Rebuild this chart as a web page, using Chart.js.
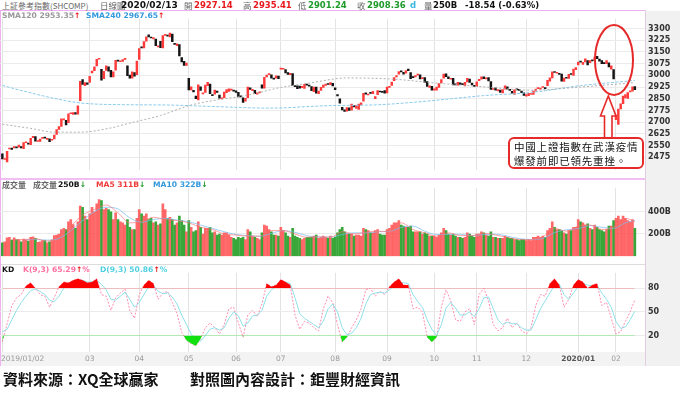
<!DOCTYPE html>
<html>
<head>
<meta charset="utf-8">
<script src="https://cdn.jsdelivr.net/npm/chart.js@4.4.1/dist/chart.umd.min.js"></script>
<style>
body{margin:0;width:680px;height:394px;background:#fff;position:relative;overflow:hidden;font-family:"DejaVu Sans",sans-serif}
.abs{position:absolute;white-space:nowrap}
canvas{position:absolute;left:0}
.hd{top:0;font-size:8.5px;line-height:11px;font-weight:bold}
.cj{font-family:"Noto Sans CJK TC";font-weight:normal;color:#666;font-size:8.5px}
.lg{font-size:7.6px;font-weight:bold;line-height:10px}
</style>
</head>
<body>
<!-- backgrounds -->
<div class="abs" style="left:645px;top:11px;width:35px;height:355px;background:#f1f1f1"></div>
<div class="abs" style="left:0;top:352px;width:645px;height:14px;background:#f3f3f3"></div>
<div class="abs" style="left:0;top:10px;width:646px;height:1px;background:#eeb0ee"></div>
<div class="abs" style="left:0;top:178px;width:646px;height:2px;background:#f2bdf2"></div>
<div class="abs" style="left:0;top:264px;width:645px;height:1px;background:#ddd"></div>
<div class="abs" style="left:0;top:10px;width:1px;height:356px;background:#eeb0ee"></div>
<div class="abs" style="left:645px;top:10px;width:1px;height:356px;background:#e2cce2"></div>

<canvas id="cPrice" width="680" height="167" style="top:11px"></canvas>
<canvas id="cVol" width="680" height="84" style="top:180px"></canvas>
<canvas id="cKD" width="680" height="101" style="top:265px"></canvas>

<!-- header row -->
<span class="abs hd cj" style="left:2px;font-size:8px">上証參考指數(SHCOMP)</span>
<span class="abs hd cj" style="left:100px">日線圖</span>
<span class="abs hd" style="left:121px;color:#111;font-size:9px">2020/02/13</span>
<span class="abs hd cj" style="left:184px">開</span>
<span class="abs hd" style="left:194px;color:#e8191e">2927.14</span>
<span class="abs hd cj" style="left:243px">高</span>
<span class="abs hd" style="left:253px;color:#e8191e">2935.41</span>
<span class="abs hd cj" style="left:298px">低</span>
<span class="abs hd" style="left:308px;color:#1d9a2a">2901.24</span>
<span class="abs hd cj" style="left:357px">收</span>
<span class="abs hd" style="left:367px;color:#1d9a2a">2908.36</span>
<span class="abs hd" style="left:410px;color:#38b8e0">d</span>
<span class="abs hd cj" style="left:424px">量</span>
<span class="abs hd" style="left:433px;color:#111">250B</span>
<span class="abs hd" style="left:465px;color:#111">-18.54 (-0.63%)</span>

<!-- panel legends -->
<span class="abs lg" style="left:2px;top:11px;color:#999">SMA120 2953.35<span style="color:#e8191e">↑</span></span>
<span class="abs lg" style="left:86px;top:11px;color:#3399dd">SMA240 2967.65<span style="color:#e8191e">↑</span></span>

<span class="abs lg cj" style="left:2px;top:180px;font-size:8px">成交量</span>
<span class="abs lg cj" style="left:33px;top:180px;font-size:8px">成交量</span>
<span class="abs lg" style="left:58px;top:180px;color:#111">250B<span style="color:#1d9a2a">↓</span></span>
<span class="abs lg" style="left:96px;top:180px;color:#f03a3a">MA5 311B<span style="color:#1d9a2a">↓</span></span>
<span class="abs lg" style="left:153px;top:180px;color:#3399dd">MA10 322B<span style="color:#1d9a2a">↓</span></span>

<span class="abs lg" style="left:2px;top:265px;color:#111">KD</span>
<span class="abs lg" style="left:23px;top:265px;color:#ff6fa0">K(9,3) 65.29<span style="color:#e8191e">↑</span>%</span>
<span class="abs lg" style="left:100px;top:265px;color:#4fd0e0">D(9,3) 50.86<span style="color:#e8191e">↑</span>%</span>

<!-- annotation -->
<svg class="abs" style="left:0;top:0" width="680" height="394">
  <ellipse cx="614" cy="60" rx="19" ry="35" fill="none" stroke="#e62a2a" stroke-width="2"/>
  <path d="M604.5 138 V116 H600.5 L608.3 96 L616 116 H612 V138" fill="#fff" stroke="#e62a2a" stroke-width="1.6"/>
</svg>
<div class="abs" style="left:508px;top:137px;width:136px;height:32px;box-sizing:border-box;border:2px solid #e62a2a;border-radius:6px;background:#fff;font-family:'Noto Sans CJK TC';font-size:10.5px;letter-spacing:0.8px;line-height:14px;padding:1px 0 0 4px;color:#111">中國上證指數在武漢疫情<br>爆發前即已領先重挫。</div>

<!-- footer -->
<span class="abs" style="left:3px;top:369px;font-family:'Noto Sans CJK TC';font-size:15px;font-weight:bold;color:#111;line-height:20px">資料來源：XQ全球贏家</span>
<span class="abs" style="left:190px;top:369px;font-family:'Noto Sans CJK TC';font-size:15px;font-weight:bold;color:#111;line-height:20px">對照圖內容設計：鉅豐財經資訊</span>

<script>
// 月份刻度 (交易日序號) 與標籤
const monthIdx = [0, 37, 58, 79, 99, 118, 141, 163, 183, 201, 222, 244, 260];
const monthLabels = ['2019/01/02', '03', '04', '05', '06', '07', '08', '09', '10', '11', '12', '2020/01', '02'];

// 日K 開盤
const opens = [
  2497,2461,2446,2528,2534,2535,2536,2540,2544,2530,2568,2564,2556,2600,2607,2576,2577,2596,2604,2590,2593,2584,
  2592,2622,2654,2673,2715,2711,2697,2754,2749,2761,2751,2838,2973,2933,2952,
  2954,3015,3030,3060,3103,3038,2978,3031,3054,3032,2990,3033,3094,3087,3089,3102,3061,3001,2981,3018,3004,
  3101,3177,3176,3218,3259,3242,3233,3232,3182,3218,3175,3256,3258,3245,3264,3203,3189,3197,3114,3090,3063,
  2980,2906,2904,2867,2843,2926,2881,2890,2934,2944,2875,2880,2899,2874,2849,2857,2889,2897,2905,2905,
  2901,2891,2868,2855,2834,2857,2919,2902,2903,2880,2888,2939,2917,2989,3004,3003,2977,2982,2995,
  3040,3039,3036,3018,3004,3011,2930,2932,2931,2921,2916,2940,2936,2928,2895,2925,2883,2903,2923,2935,2944,2940,2949,
  2920,2877,2849,2795,2779,2770,2791,2776,2806,2788,2781,2811,2834,2887,2874,2886,2883,2851,2876,2895,2892,2902,
  2887,2922,2935,2966,2990,3007,3028,3019,3013,3040,3017,2986,2990,3001,3003,2978,2985,2960,2922,2929,
  2905,2905,2922,2951,2982,3009,2990,2975,2980,2941,2937,2952,2941,2932,2958,2976,2950,2936,
  2929,2965,2976,2990,2977,2985,2960,2909,2919,2900,2905,2887,2911,2927,2907,2898,2878,2910,2906,2899,2887,
  2867,2870,2877,2878,2899,2915,2911,2922,2922,2934,2963,2984,3019,3013,3012,3008,2961,2982,2980,3006,2999,3036,
  3067,3089,3070,3085,3094,3081,3096,3095,3122,3104,3095,3080,3075,3080,3040,3037,
  2716,2686,2784,2819,2855,2852,2894,2898,2927.14
];
// 日K 收盤
const closes = [
  2465,2464,2514,2533,2526,2544,2535,2553,2535,2570,2570,2559,2596,2610,2579,2581,2591,2601,2597,2594,2575,2584,
  2618,2653,2671,2721,2719,2682,2754,2755,2761,2751,2804,2961,2942,2953,2941,
  2994,3027,3054,3102,3106,2969,3026,3060,3026,2990,3022,3096,3091,3090,3101,3104,2997,2982,3022,2995,3091,
  3171,3176,3216,3247,3245,3239,3241,3189,3189,3177,3254,3263,3251,3271,3215,3198,3201,3124,3086,3063,3078,
  2907,2926,2893,2850,2939,2903,2883,2938,2955,2882,2870,2905,2891,2853,2852,2892,2909,2914,2905,2899,
  2890,2862,2861,2827,2852,2925,2909,2910,2882,2887,2890,2917,2987,3001,3008,2982,2976,2996,2979,
  3044,3043,3015,3005,3012,2933,2928,2915,2917,2930,2942,2937,2931,2901,2924,2886,2899,2923,2937,2944,2941,2953,2932,
  2908,2868,2821,2778,2768,2794,2775,2815,2797,2808,2815,2823,2884,2880,2880,2884,2898,2863,2902,2893,2891,2886,
  2925,2930,2957,2985,2999,3024,3021,3008,3031,3030,2978,2985,2999,3006,2977,2985,2955,2929,2932,2905,
  2913,2924,2947,2973,3008,2991,2978,2977,2938,2939,2955,2941,2940,2955,2980,2954,2939,2929,
  2958,2975,2991,2978,2978,2964,2909,2914,2905,2909,2891,2909,2933,2911,2903,2886,2907,2907,2903,2889,2872,
  2876,2884,2878,2899,2912,2915,2918,2925,2915,2968,2984,3022,3018,3017,3005,2963,2982,2981,3007,3005,3040,3050,
  3085,3084,3083,3105,3067,3095,3092,3116,3107,3090,3075,3075,3095,3053,3061,2977,
  2746,2783,2818,2867,2876,2890,2901,2927,2908.36
];
// 成交量 (B)
const volumes = [
  120,130,165,170,145,165,150,150,130,155,145,135,170,175,160,125,130,140,140,120,130,145,
  185,190,200,240,250,240,310,330,285,250,310,450,440,360,330,
  380,440,400,470,510,500,420,430,420,400,330,390,330,310,300,280,330,260,240,240,340,
  420,380,360,380,330,340,300,310,280,290,470,420,340,350,330,280,300,360,320,280,220,
  320,260,220,230,310,260,200,250,250,260,210,220,190,200,190,210,210,190,170,160,
  150,170,160,170,150,240,220,180,170,160,150,210,280,270,240,220,190,190,180,
  260,230,210,180,170,250,180,170,160,150,160,170,170,170,180,190,160,170,180,170,160,180,160,
  170,210,240,260,220,200,200,200,180,190,190,180,250,240,230,210,210,230,240,200,190,190,
  240,250,280,300,300,320,280,270,260,260,270,220,220,220,220,200,210,200,180,180,
  180,170,190,210,250,230,200,190,200,180,170,170,160,170,210,200,180,170,
  200,200,220,210,190,180,220,170,170,160,160,160,180,170,160,160,150,150,140,150,150,
  140,150,140,170,170,180,170,180,170,230,250,310,260,240,240,230,210,200,230,230,260,260,
  330,310,300,280,290,250,240,280,260,240,230,220,240,270,270,320,
  340,360,330,360,340,320,310,330,250
];

// 均線 (讀圖取點)
const sma120Idx = [0,12,22,33,45,54,67,80,92,102,118,130,146,166,181,205,224,245,268];
const sma120 = [2687,2660,2636,2636,2660,2694,2743,2810,2845,2867,2922,2950,2983,2975,2954,2925,2905,2925,2953.35];
const sma240Idx = [0,10,23,33,50,69,90,113,137,160,180,204,224,245,265,268];
const sma240 = [2935,2895,2849,2823,2812,2810,2800,2790,2805,2812,2835,2870,2890,2934,2963,2967.65];

const ma5Idx = [4,9,14,19,24,29,34,39,44,49,54,59,64,69,74,79,84,89,94,99,104,109,114,119,124,129,134,139,144,149,154,159,164,169,174,179,184,189,194,199,204,209,214,219,224,229,234,239,244,249,254,259,264,268];
const ma5 = [146,150,156,135,180,270,370,420,460,390,300,310,350,330,320,300,260,240,200,190,180,180,230,230,200,170,175,170,220,200,215,225,220,300,240,210,180,210,185,185,205,190,168,150,148,175,250,225,270,280,240,260,340,311];
const ma10Idx = [9,14,19,24,29,34,39,44,49,54,59,64,69,74,79,84,89,94,99,104,109,114,119,124,129,134,139,144,149,154,159,164,169,174,179,184,189,194,199,204,209,214,219,224,229,234,239,244,249,254,259,264,268];
const ma10 = [148,150,145,160,230,320,400,440,425,345,305,330,340,325,310,280,250,220,195,185,180,205,230,215,185,172,172,195,210,208,220,222,260,270,225,195,195,198,185,195,198,180,158,150,160,212,238,248,275,260,250,300,322];

// KD(9,3) 每兩個交易日取一點
const kdIdx = [0,2,4,6,8,10,12,14,16,18,20,22,24,26,28,30,32,34,36,38,40,42,44,46,48,50,52,54,56,58,60,62,64,66,68,70,72,74,76,78,80,82,84,86,88,90,92,94,96,98,100,102,104,106,108,110,112,114,116,118,120,122,124,126,128,130,132,134,136,138,140,142,144,146,148,150,152,154,156,158,160,162,164,166,168,170,172,174,176,178,180,182,184,186,188,190,192,194,196,198,200,202,204,206,208,210,212,214,216,218,220,222,224,226,228,230,232,234,236,238,240,242,244,246,248,250,252,254,256,258,260,262,264,266,268];
const kVals = [12,35,58,68,72,83,87,80,72,70,56,68,82,88,87,90,92,90,87,88,92,72,70,52,68,74,79,52,42,72,84,90,86,66,74,76,62,48,24,14,10,7,16,30,36,30,22,34,54,56,36,18,46,52,44,60,86,82,84,91,88,84,46,28,38,36,30,26,54,70,62,34,12,18,30,40,54,78,80,70,76,72,82,88,92,84,84,54,56,50,18,12,18,56,78,64,40,38,50,54,34,72,80,64,34,26,30,42,30,36,26,22,30,58,72,70,86,92,84,56,66,84,91,88,80,84,86,58,62,42,22,25,38,50,65.29];
const dVals = [25,28,40,52,62,70,77,79,76,72,65,63,70,80,85,87,90,90,88,88,90,85,78,66,65,70,75,66,56,62,72,82,84,76,73,74,69,60,46,34,22,14,13,20,28,30,27,30,42,50,45,32,36,45,46,52,70,78,82,87,88,86,68,48,42,38,34,30,38,54,60,50,30,21,23,30,42,60,72,74,75,74,78,83,88,87,86,72,63,56,40,28,20,34,55,62,55,46,46,50,44,54,68,69,54,40,34,37,35,35,30,27,27,40,54,64,74,84,85,72,66,74,82,86,84,83,84,74,66,56,38,29,31,40,50.86];

// 價格/量/KD 軸刻度
const priceTicks = [2475,2550,2625,2700,2775,2850,2925,3000,3075,3150,3225,3300];
const volTicks = [200, 400];
const kdTicks = [20, 50, 80];

Chart.defaults.font.family = 'DejaVu Sans';
Chart.defaults.animation = false;

const upRed = '#ff3a3a', downBlack = '#141414';
const candleColors = closes.map((c, i) => c >= opens[i] ? upRed : downBlack);
const volColors = closes.map((c, i) => c >= opens[i] ? 'rgba(255,72,72,0.82)' : '#38a638');
const pts = (xs, ys) => xs.map((x, i) => ({ x: x, y: ys[i] }));

function xAxis(h) {
  return {
    type: 'linear', min: -1, max: 272.3, offset: false,
    afterBuildTicks: s => { s.ticks = monthIdx.map(v => ({ value: v })); },
    afterFit: s => { s.height = h; },
    grid: { color: '#e3e3e3', drawTicks: false, offset: false },
    border: { display: false },
    ticks: { display: false }
  };
}
function yAxis(min, max, tickVals, fmt) {
  return {
    position: 'right', min: min, max: max,
    afterBuildTicks: s => { s.ticks = tickVals.map(v => ({ value: v })); },
    afterFit: s => { s.width = 35; },
    grid: { color: '#ebebeb', drawTicks: false },
    border: { display: false },
    ticks: { padding: 3, color: '#333', font: { size: 8, weight: 'bold' }, callback: fmt }
  };
}
const baseOpts = {
  responsive: false, maintainAspectRatio: false,
  layout: { padding: 0 },
  plugins: { legend: { display: false }, tooltip: { enabled: false } }
};

// 價格 K 線
new Chart(document.getElementById('cPrice'), {
  type: 'bar',
  data: {
    datasets: [
      { type: 'line', data: pts(sma120Idx, sma120), borderColor: '#b0b0b0', borderWidth: 1, borderDash: [2, 2], pointRadius: 0, cubicInterpolationMode: 'monotone' },
      { type: 'line', data: pts(sma240Idx, sma240), borderColor: '#8ccbec', borderWidth: 1, borderDash: [3, 1.5], pointRadius: 0, cubicInterpolationMode: 'monotone' },
      { data: closes.map((c, i) => ({ x: i, y: [opens[i], c] })), backgroundColor: candleColors, barThickness: 1.8, minBarLength: 1 }
    ]
  },
  options: Object.assign({}, baseOpts, {
    scales: { x: xAxis(0), y: yAxis(2392.5, 3361.7, priceTicks, v => v) }
  })
});

// 成交量
new Chart(document.getElementById('cVol'), {
  type: 'bar',
  data: {
    datasets: [
      { type: 'line', data: pts(ma5Idx, ma5), borderColor: 'rgba(255,110,110,0.8)', borderWidth: 0.8, pointRadius: 0, cubicInterpolationMode: 'monotone' },
      { type: 'line', data: pts(ma10Idx, ma10), borderColor: 'rgba(120,190,240,0.9)', borderWidth: 0.8, pointRadius: 0, cubicInterpolationMode: 'monotone' },
      { data: volumes.map((v, i) => ({ x: i, y: v })), backgroundColor: volColors, barThickness: 2 }
    ]
  },
  options: Object.assign({}, baseOpts, {
    scales: { x: xAxis(0), y: yAxis(0, 615, volTicks, v => v + 'B') }
  })
});

// 月份標籤
const monthLabelPlugin = {
  id: 'monthLabels',
  afterDraw(chart) {
    const ctx = chart.ctx, xs = chart.scales.x, y = chart.chartArea.bottom + 7.5;
    ctx.save();
    ctx.textBaseline = 'middle';
    monthIdx.forEach((v, i) => {
      const bold = monthLabels[i] === '2020/01';
      ctx.font = (bold ? 'bold ' : '') + '7.5px "DejaVu Sans"';
      ctx.fillStyle = bold ? '#555' : '#9a9a9a';
      ctx.textAlign = i === 0 ? 'left' : 'center';
      ctx.fillText(monthLabels[i], i === 0 ? 1 : xs.getPixelForValue(v), y);
    });
    ctx.restore();
  }
};

// KD
const kPts = pts(kdIdx, kVals);
new Chart(document.getElementById('cKD'), {
  type: 'line',
  data: {
    datasets: [
      { data: kPts, borderWidth: 0, pointRadius: 0, fill: { target: { value: 80 }, above: '#ff0000', below: 'rgba(0,0,0,0)' } },
      { data: kPts, borderWidth: 0, pointRadius: 0, fill: { target: { value: 20 }, above: 'rgba(0,0,0,0)', below: '#10e010' } },
      { data: pts(kdIdx, dVals), borderColor: '#8fe0ea', borderWidth: 1, pointRadius: 0 },
      { data: kPts, borderColor: '#ff8db0', borderWidth: 1, borderDash: [2, 1.5], pointRadius: 0 }
    ]
  },
  options: Object.assign({}, baseOpts, {
    scales: { x: xAxis(14), y: yAxis(-0.8, 99.6, kdTicks, v => v) }
  }),
  plugins: [monthLabelPlugin]
});
</script>
</body>
</html>
